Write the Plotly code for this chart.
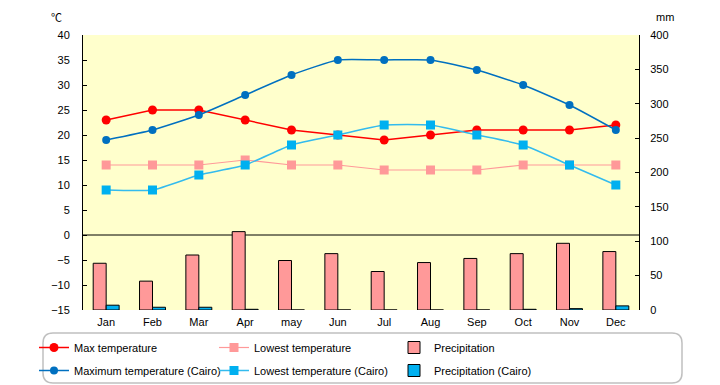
import plotly.graph_objects as go

months = ["Jan", "Feb", "Mar", "Apr", "may", "Jun", "Jul", "Aug", "Sep", "Oct", "Nov", "Dec"]
max_temp = [23, 25, 25, 23, 21, 20, 19, 20, 21, 21, 21, 22]
low_temp = [14, 14, 14, 15, 14, 14, 13, 13, 13, 14, 14, 14]
precip = [68, 42, 80, 114, 72, 82, 56, 69, 75, 82, 97, 85]
cairo_max = [19, 21, 24, 28, 32, 35, 35, 35, 33, 30, 26, 21]
cairo_low = [9, 9, 12, 14, 18, 20, 22, 22, 20, 18, 14, 10]
cairo_precip = [7, 4, 4, 1, 0, 0, 0, 0, 0, 1, 2, 6]

W, H = 720, 385
L, R, T, B = 83, 81, 35, 75
PW, PH = W - L - R, H - T - B


def px(x):
    return (x - L) / PW


def py(y):
    return (H - B - y) / PH


FONT = "Liberation Sans, Noto Sans CJK JP, sans-serif"

fig = go.Figure()
fig.add_trace(go.Scatter(x=months, y=max_temp, name="Max temperature", yaxis="y2",
                         mode="lines+markers", line=dict(color="#FF0000", width=1.5),
                         marker=dict(symbol="circle", size=9, color="#FF0000"), legend="legend"))
fig.add_trace(go.Scatter(x=months, y=low_temp, name="Lowest temperature", yaxis="y2",
                         mode="lines+markers", line=dict(color="#FF9999", width=1.2),
                         marker=dict(symbol="square", size=9, color="#FF9999"), legend="legend"))
fig.add_trace(go.Bar(x=months, y=precip, name="Precipitation", yaxis="y",
                     marker=dict(color="#FF9999", line=dict(color="#000000", width=1)), legend="legend"))
fig.add_trace(go.Scatter(x=months, y=cairo_max, name="Maximum temperature (Cairo)", yaxis="y2",
                         mode="lines+markers", line=dict(color="#0070C0", width=1.5, shape="spline", smoothing=0.5),
                         marker=dict(symbol="circle", size=8, color="#0070C0"), legend="legend2"))
fig.add_trace(go.Scatter(x=months, y=cairo_low, name="Lowest temperature (Cairo)", yaxis="y2",
                         mode="lines+markers", line=dict(color="#33BBEE", width=1.5, shape="spline", smoothing=0.5),
                         marker=dict(symbol="square", size=9, color="#00B0F0"), legend="legend2"))
fig.add_trace(go.Bar(x=months, y=cairo_precip, name="Precipitation (Cairo)", yaxis="y",
                     marker=dict(color="#00B0F0", line=dict(color="#000000", width=1)), legend="legend2"))

r = 10
x0, x1, y0, y1 = 43, 682, 333, 383
path = (f"M {px(x0 + r)},{py(y0)} L {px(x1 - r)},{py(y0)} Q {px(x1)},{py(y0)} {px(x1)},{py(y0 + r)} "
        f"L {px(x1)},{py(y1 - r)} Q {px(x1)},{py(y1)} {px(x1 - r)},{py(y1)} "
        f"L {px(x0 + r)},{py(y1)} Q {px(x0)},{py(y1)} {px(x0)},{py(y1 - r)} "
        f"L {px(x0)},{py(y0 + r)} Q {px(x0)},{py(y0)} {px(x0 + r)},{py(y0)} Z")

fig.update_layout(
    width=W, height=H,
    margin=dict(l=L, r=R, t=T, b=B, pad=0, autoexpand=False),
    paper_bgcolor="white", plot_bgcolor="#FFFFCC",
    font=dict(family=FONT, size=11, color="black"),
    barmode="group", bargap=0.44, bargroupgap=0,
    xaxis=dict(type="category", range=[-0.5, len(months) - 0.5], showline=False, ticks="",
               showgrid=False, zeroline=False, tickfont=dict(size=11), ticklabelstandoff=4),
    yaxis=dict(side="right", range=[0, 400], dtick=50, ticks="inside", ticklen=4,
               tickcolor="black", showline=True, linecolor="black", linewidth=1,
               showgrid=False, zeroline=False, ticklabelstandoff=8),
    yaxis2=dict(overlaying="y", side="left", range=[-15, 40], dtick=5, ticks="inside",
                ticklen=4, tickcolor="black", showline=True, linecolor="black", linewidth=1,
                showgrid=False, zeroline=False, ticklabelstandoff=10),
    legend=dict(orientation="h", x=px(34), y=py(333), xanchor="left", yanchor="top",
                entrywidth=135, entrywidthmode="pixels", bgcolor="rgba(0,0,0,0)",
                font=dict(size=11), traceorder="normal"),
    legend2=dict(orientation="h", x=px(34), y=py(356), xanchor="left", yanchor="top",
                 entrywidth=135, entrywidthmode="pixels", bgcolor="rgba(0,0,0,0)",
                 font=dict(size=11), traceorder="normal"),
    shapes=[
        dict(type="line", xref="paper", x0=0, x1=1, yref="y2", y0=0, y1=0,
             line=dict(color="black", width=1), layer="below"),
        dict(type="path", xref="paper", yref="paper", path=path,
             line=dict(color="#C0C0C0", width=1.5), fillcolor="rgba(0,0,0,0)"),
    ],
    annotations=[
        dict(text="℃", xref="paper", yref="paper", x=px(56), y=py(17), showarrow=False,
             xanchor="center", yanchor="middle",
             font=dict(size=11, family="Noto Sans CJK JP")),
        dict(text="mm", xref="paper", yref="paper", x=px(665), y=py(17), showarrow=False,
             xanchor="center", yanchor="middle", font=dict(size=11)),
    ],
)

fig.write_html("out.html", config={"displayModeBar": False},
               post_script="document.body.style.margin='0';document.body.style.overflow='hidden';")
